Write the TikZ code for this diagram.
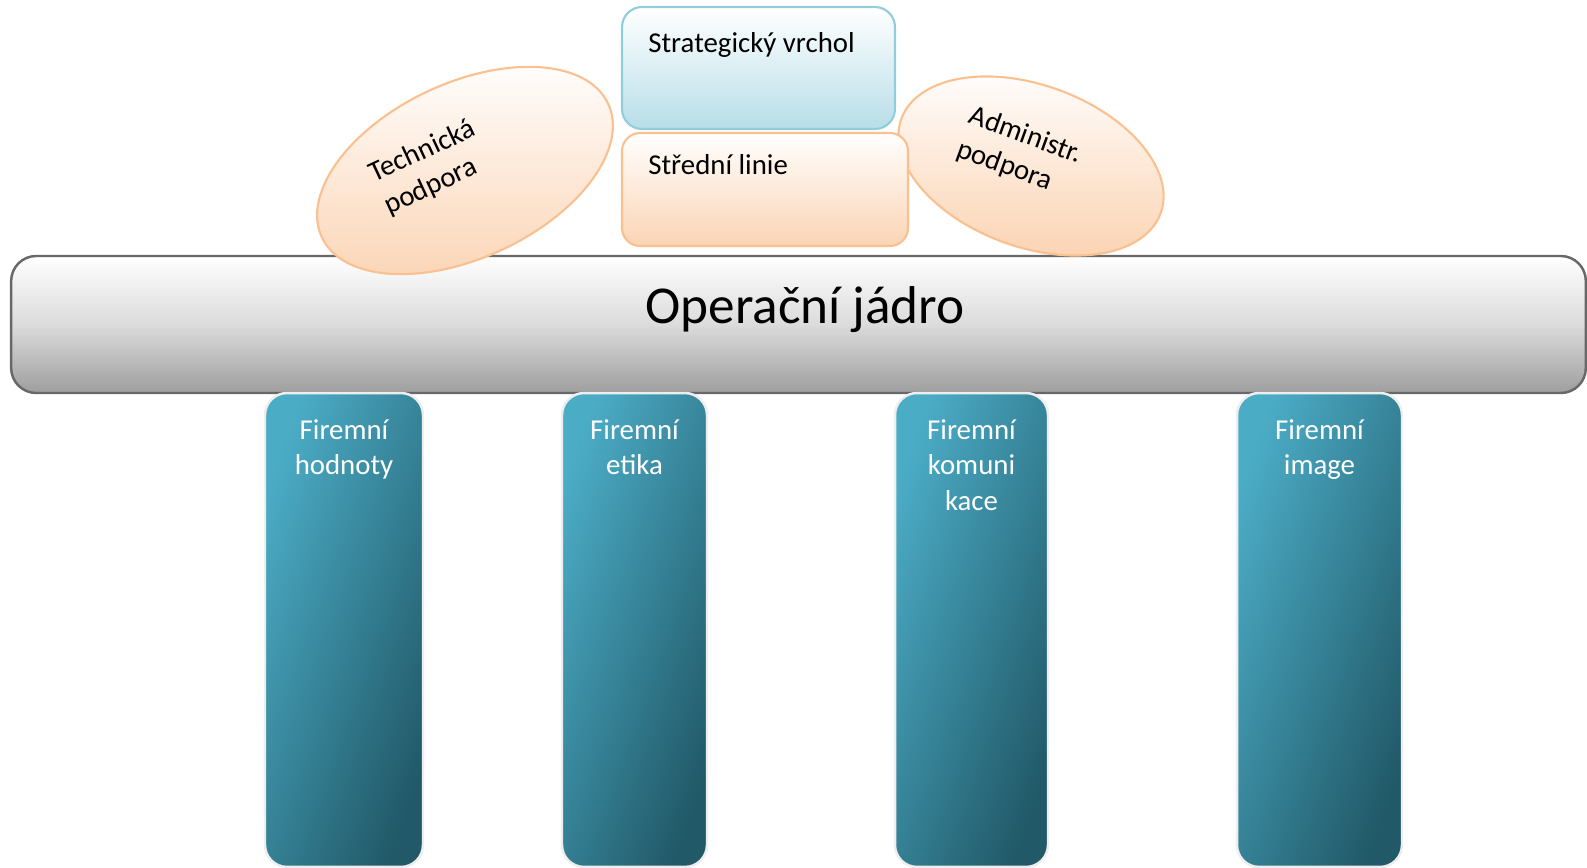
\documentclass[tikz,border=0pt]{standalone}
\usepackage{fontspec}
\setmainfont{Carlito}
\usetikzlibrary{shapes.geometric}

\definecolor{stratline}{RGB}{146,205,220}
\definecolor{stratfill}{RGB}{183,222,232}
\definecolor{orline}{RGB}{250,192,143}
\definecolor{orfill}{RGB}{251,212,180}
\definecolor{coreline}{RGB}{104,104,104}
\definecolor{pillight}{RGB}{75,172,198}
\definecolor{pildark}{RGB}{33,89,104}
\definecolor{pilline}{RGB}{238,238,238}

\begin{document}
\begin{tikzpicture}[x=0.02cm,y=-0.02cm,
    every node/.style={inner sep=0pt},
    txt/.style={font=\fontsize{16.4}{20.1}\selectfont},
    topbox/.style={draw=stratline,line width=1.2pt,rounded corners=0.4cm,top color=white,bottom color=stratfill},
    midbox/.style={draw=orline,line width=1.2pt,rounded corners=0.36cm,top color=white,bottom color=orfill},
    oval/.style={ellipse,draw=orline,line width=1.2pt,top color=white,bottom color=orfill},
    corebar/.style={draw=coreline,line width=1.4pt,rounded corners=0.5cm,top color=white,bottom color=black!38,middle color=black!14},
    pillar/.style={draw=pilline,line width=1.4pt,rounded corners=0.44cm,left color=pillight,right color=pildark,shading angle=70,minimum height=9.48cm},
    piltxt/.style={txt,text=white,align=center,anchor=base}]
    \useasboundingbox (0,0) rectangle (1587,868);
    % operacni jadro
    \node[corebar,minimum width=31.5cm,minimum height=2.74cm] (core) at (798.5,324.5) {};
    % podpurne slozky
    \node[oval,minimum width=6.32cm,minimum height=3.5cm,rotate=25] (tech) at (465,170.5) {};
    \node[oval,minimum width=5.52cm,minimum height=3.24cm,rotate=-20] (admin) at (1031,166) {};
    % vrchol a stredni linie
    \node[topbox,minimum width=5.46cm,minimum height=2.44cm] (strat) at (758.5,68) {};
    \node[midbox,minimum width=5.72cm,minimum height=2.26cm] (mid) at (765,189.5) {};
    % sloupy
    \node[pillar,minimum width=3.16cm] (hodnoty) at (344,630) {};
    \node[pillar,minimum width=2.9cm] (etika) at (634.5,630) {};
    \node[pillar,minimum width=3.06cm] (komunikace) at (971.5,630) {};
    \node[pillar,minimum width=3.3cm] (image) at (1319.5,630) {};
    % texty (base = posledni radek)
    \node[txt,anchor=base west] (strattxt) at (648,53) {Strategický vrchol};
    \node[txt,anchor=base west] (midtxt) at (648,175) {Střední linie};
    \node[txt,anchor=base west,align=left,rotate=25] (techtxt) at (389,215) {Technická\\podpora};
    \node[txt,anchor=base west,align=left,rotate=-20] (admintxt) at (955,156) {Administr.\\podpora};
    \node[font=\fontsize{30.3}{36}\selectfont,anchor=base] (coretxt) at (805,324) {Operační jádro};
    \node[piltxt] (hodnotytxt) at (344,474.5) {Firemní\\hodnoty};
    \node[piltxt] (etikatxt) at (634.5,474.5) {Firemní\\etika};
    \node[piltxt] (komunikacetxt) at (971.5,510) {Firemní\\komuni\\kace};
    \node[piltxt] (imagetxt) at (1319.5,474.5) {Firemní\\image};
\end{tikzpicture}
\end{document}
